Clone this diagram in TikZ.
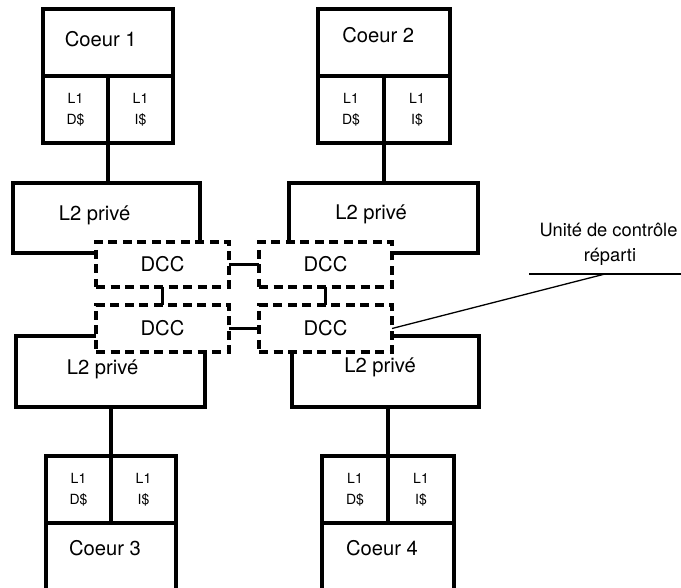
\documentclass[tikz,border=0pt]{standalone}
\usepackage{fontspec}
\setmainfont{TeX Gyre Heros}
\usetikzlibrary{positioning}

\tikzset{
  box/.style = {draw, line width=4pt, outer sep=0pt, inner sep=0pt},
  cell/.style = {box, align=center, font=\fontsize{14}{21.3}\selectfont},
  dccbox/.style = {draw, fill=white, line width=3.4pt, dash pattern=on 9pt off 5.5pt,
                   outer sep=0pt, minimum width=133pt, font=\fontsize{20.2}{24}\selectfont},
  wire/.style = {line width=3.2pt},
  big/.style = {anchor=base, inner sep=0pt, font=\fontsize{20.2}{24}\selectfont},
  note/.style = {anchor=base, inner sep=0pt, font=\fontsize{18.3}{22}\selectfont}
}

\begin{document}
\begin{tikzpicture}[x=1pt, y=-1pt]
        \useasboundingbox (0,0) rectangle (681,588);
        \clip (0,0) rectangle (681,588);
        % coeurs du haut
        \node[box, minimum width=130pt, minimum height=67pt] (core1) at (108,43) {};
        \node[cell, minimum width=65pt, minimum height=67pt, below right=0pt of core1.south west] (dc1) {L1\\D\$};
        \node[cell, minimum width=65pt, minimum height=67pt, right=0pt of dc1] (ic1) {L1\\I\$};
        \node[box, minimum width=132pt, minimum height=67pt] (core2) at (384,43) {};
        \node[cell, minimum width=66pt, minimum height=67pt, below right=0pt of core2.south west] (dc2) {L1\\D\$};
        \node[cell, minimum width=66pt, minimum height=67pt, right=0pt of dc2] (ic2) {L1\\I\$};
        % coeurs du bas
        \node[cell, minimum width=65pt, minimum height=67pt] (dc3) at (78.5,489.5) {L1\\D\$};
        \node[cell, minimum width=65pt, minimum height=67pt, right=0pt of dc3] (ic3) {L1\\I\$};
        \node[box, minimum width=130pt, minimum height=77pt, below right=0pt of dc3.south west] (core3) {};
        \node[cell, minimum width=66pt, minimum height=67pt] (dc4) at (355,489.5) {L1\\D\$};
        \node[cell, minimum width=66pt, minimum height=67pt, right=0pt of dc4] (ic4) {L1\\I\$};
        \node[box, minimum width=132pt, minimum height=77pt, below right=0pt of dc4.south west] (core4) {};
        \node[big] (tc1) at (100.8,46.7) {Coeur 1};
        \node[big] (tc2) at (378.3,43) {Coeur 2};
        \node[big] (tc3) at (105,555) {Coeur 3};
        \node[big] (tc4) at (382,555) {Coeur 4};
        % caches L2
        \node[box, minimum width=187pt, minimum height=70pt] (l2a) at (106.5,218) {};
        \node[box, minimum width=189pt, minimum height=70pt] (l2b) at (383.5,218) {};
        \node[box, minimum width=189pt, minimum height=71pt] (l2c) at (110.5,371.5) {};
        \node[box, minimum width=187pt, minimum height=71pt] (l2d) at (385.5,371.5) {};
        \node[big] (tl2a) at (94.5,221) {L2 privé};
        \node[big] (tl2b) at (371,220) {L2 privé};
        \node[big] (tl2c) at (102.5,375) {L2 privé};
        \node[big] (tl2d) at (380,373) {L2 privé};
        % DCC
        \node[dccbox, minimum height=45pt] (dcc1) at (162.5,264.5) {DCC};
        \node[dccbox, minimum height=45pt, right=30pt of dcc1] (dcc2) {DCC};
        \node[dccbox, minimum height=47pt, below=18pt of dcc1] (dcc3) {DCC};
        \node[dccbox, minimum height=47pt, below=18pt of dcc2] (dcc4) {DCC};
        % liaisons
        \draw[wire] (dc1.south east) -- (dc1.south east |- l2a.north);
        \draw[wire] (dc2.south east) -- (dc2.south east |- l2b.north);
        \draw[wire] (l2c.south -| dc3.north east) -- (dc3.north east);
        \draw[wire] (l2d.south -| dc4.north east) -- (dc4.north east);
        \draw[wire] (dcc1.east) -- (dcc2.west);
        \draw[wire] (dcc3.east) -- (dcc4.west);
        \draw[wire] (dcc1.south) -- (dcc3.north);
        \draw[wire] (dcc2.south) -- (dcc4.north);
        % annotation
        \node[note] (n1) at (608.5,237) {Unité de contrôle};
        \node[note] (n2) at (610,262) {réparti};
        \coordinate (nl) at (529,274);
        \coordinate (nr) at (681,274);
        \coordinate (nk) at (605,274);
        \draw[line width=1.3pt] (nl) -- (nr);
        \draw[line width=1.3pt] (nk) -- (dcc4.east);
\end{tikzpicture}
\end{document}
